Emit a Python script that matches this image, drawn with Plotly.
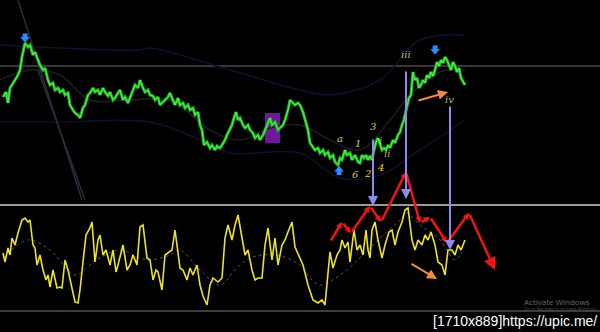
import plotly.graph_objects as go

# ---------------- data (chart units: x = bar position, y = level, axis reversed) -------------
price_x = [3, 6, 8, 10, 12, 15, 18, 20, 22, 25, 28, 30, 33, 35, 38, 40, 43, 45, 48, 50, 53, 55, 58, 60,
           63, 65, 68, 70, 73, 75, 78, 80, 83, 85, 88, 90, 93, 95, 98, 100, 103, 105, 108, 110, 113,
           115, 118, 120, 123, 125, 128, 130, 133, 135, 138, 140, 143, 145, 148, 150, 153, 155, 158,
           160, 163, 165, 168, 170, 173, 175, 178, 180, 183, 185, 188, 190, 193, 195, 198, 200, 202,
           204, 207, 210, 212, 215, 217, 220, 222, 225, 227, 230, 232, 234, 236, 238, 240, 243, 245,
           248, 250, 253, 255, 258, 260, 263, 265, 268, 270, 272, 275, 278, 280, 283, 285, 288, 290,
           293, 295, 298, 300, 303, 305, 308, 310, 313, 315, 318, 320, 323, 325, 328, 330, 333, 335,
           338, 340, 342, 345, 347, 350, 352, 355, 358, 360, 362, 364, 366, 368, 370, 372, 374, 376,
           378, 380, 382, 384, 386, 388, 390, 393, 395, 398, 400, 402, 404, 405, 407, 409, 411, 413,
           415, 417, 419, 421, 423, 425, 427, 429, 431, 433, 435, 437, 439, 441, 443, 445, 447, 449,
           451, 453, 455, 457, 459, 461, 463, 465]
price_y = [97, 92, 103, 88, 85, 80, 75, 70, 57, 43, 47, 45, 55, 52, 60, 65, 70, 68, 80, 85, 83, 90, 88,
           92, 90, 95, 93, 105, 110, 113, 115, 118, 108, 105, 95, 93, 88, 92, 90, 95, 88, 92, 96, 92,
           100, 98, 93, 90, 100, 97, 103, 98, 92, 85, 88, 80, 88, 92, 90, 95, 96, 100, 97, 105, 102,
           100, 97, 93, 100, 105, 98, 105, 103, 108, 105, 110, 108, 115, 112, 125, 130, 145, 142, 148,
           145, 150, 146, 148, 145, 140, 135, 128, 125, 118, 112, 120, 118, 125, 128, 125, 130, 133,
           138, 135, 140, 135, 130, 123, 118, 125, 122, 130, 128, 125, 120, 110, 100, 103, 105, 103,
           105, 112, 120, 130, 143, 147, 150, 148, 153, 150, 155, 152, 158, 155, 162, 165, 158, 160,
           150, 155, 153, 160, 155, 162, 163, 155, 158, 155, 160, 156, 160, 150, 142, 138, 145, 150,
           148, 150, 145, 148, 140, 143, 135, 132, 125, 120, 115, 105, 98, 95, 72, 80, 78, 88, 85, 80,
           83, 75, 78, 72, 76, 70, 62, 66, 60, 63, 57, 60, 65, 70, 62, 66, 72, 68, 78, 82, 85, 80, 78,
           83, 82, 75, 72, 65]

osc_x = [3, 5, 8, 10, 12, 15, 18, 20, 22, 25, 28, 30, 33, 35, 37, 40, 43, 46, 48, 50, 53, 57, 60, 62,
         65, 68, 72, 75, 78, 80, 83, 86, 90, 92, 95, 98, 100, 103, 106, 110, 113, 116, 118, 120, 123,
         127, 130, 133, 137, 140, 143, 147, 150, 153, 156, 158, 162, 165, 168, 172, 175, 180, 183,
         187, 190, 193, 197, 200, 203, 207, 210, 213, 218, 222, 225, 228, 232, 235, 238, 242, 245,
         248, 252, 255, 258, 262, 265, 268, 272, 275, 278, 282, 285, 288, 292, 295, 300, 303, 308,
         313, 318, 322, 325, 328, 330, 333, 337, 340, 342, 345, 348, 350, 354, 357, 360, 363, 366,
         368, 370, 372, 375, 378, 382, 385, 389, 392, 395, 398, 402, 405, 408, 412, 415, 418, 422,
         425, 428, 431, 435, 438, 442, 445, 448, 452, 455, 458, 461, 465]
osc_y = [253, 262, 248, 255, 238, 245, 233, 225, 220, 218, 222, 220, 245, 248, 265, 255, 270, 280, 275,
         287, 270, 288, 287, 288, 260, 270, 290, 302, 303, 290, 262, 235, 228, 222, 262, 240, 235,
         255, 250, 265, 250, 272, 265, 258, 245, 270, 265, 255, 265, 227, 225, 258, 260, 280, 270,
         272, 290, 255, 253, 250, 230, 268, 270, 280, 268, 275, 265, 285, 296, 305, 285, 278, 282,
         278, 238, 225, 240, 225, 215, 240, 255, 250, 270, 280, 278, 278, 245, 228, 260, 238, 265,
         245, 240, 232, 222, 247, 258, 265, 285, 300, 303, 300, 305, 270, 252, 268, 255, 250, 240,
         248, 242, 262, 230, 250, 245, 255, 230, 250, 258, 230, 222, 240, 258, 245, 232, 230, 245,
         232, 222, 210, 208, 240, 250, 240, 245, 235, 240, 232, 245, 262, 265, 275, 250, 250, 255,
         245, 250, 240, 235]

signal_x = [3, 28, 50, 75, 90, 100, 120, 140, 150, 170, 180, 200, 220, 235, 250, 275, 300, 310, 320,
            340, 360, 380, 400, 406, 420, 440, 455, 462]
signal_y = [258, 240, 250, 275, 265, 258, 250, 258, 260, 255, 250, 270, 285, 270, 258, 255, 265, 278,
            285, 275, 258, 238, 220, 213, 225, 240, 260, 252]

zigzag_x = [330, 342, 351, 370, 381, 406, 420, 430, 447, 469, 495]
zigzag_y = [242, 222, 233, 206, 222, 172, 223, 217, 243, 213, 270]

# faint envelope lines in the upper pane
band1_x = [0, 60, 140, 150, 230, 300, 330, 380, 420, 465]
band1_y = [45, 48, 50, 48, 70, 90, 95, 80, 40, 35]
band2_x = [0, 60, 150, 200, 230, 300, 340, 380, 420, 465]
band2_y = [122, 122, 122, 140, 153, 153, 178, 175, 150, 120]
ma_x = [0, 30, 60, 90, 130, 170, 210, 240, 270, 300, 330, 360, 390, 410, 440, 465]
ma_y = [80, 70, 75, 100, 100, 100, 130, 140, 128, 125, 140, 150, 120, 95, 72, 70]
diag1_x = [18, 82]
diag1_y = [0, 200]
diag2_x = [38, 85]
diag2_y = [70, 200]

# annotations
wave_labels = ["a", "1", "3", "i", "ii", "6", "2", "4", "iii", "iv"]
wave_x = [340, 358, 373, 380, 387, 355, 367, 380, 406, 449]
wave_y = [138, 143, 126, 140, 153, 174, 173, 167, 54, 99]
wave_colors = ["#d8c850", "#e0c840", "#e0c840", "#c8c060", "#a8a860", "#c8c060", "#e0c840",
               "#e0c840", "#b8b870", "#b8b870"]

blue_arrow_x = [373, 406, 450]
blue_arrow_top = [138, 70, 105]
blue_arrow_bottom = [206, 199, 250]

orange_from = [(417, 101), (410, 263)]
orange_to = [(448, 92), (437, 279)]

signal_arrows = [(25, 38, "down"), (339, 170, "up"), (435, 50, "down")]

h_lines = [(66, "#6f6f6f", 1), (205, "#9a9a9a", 2), (311, "#7a7a7a", 1)]

fig = go.Figure()

for bx, by, col in [(band1_x, band1_y, "#10102c"), (band2_x, band2_y, "#10102c"),
                    (ma_x, ma_y, "#1e1e1e"), (diag1_x, diag1_y, "#2c2c3c"), (diag2_x, diag2_y, "#2c2c3c")]:
    fig.add_trace(go.Scatter(x=bx, y=by, mode="lines", line=dict(color=col, width=1.5, shape="spline"),
                             hoverinfo="skip", showlegend=False))

# price
fig.add_trace(go.Scatter(x=price_x, y=price_y, mode="lines", line=dict(color="#1fb81f", width=3),
                         showlegend=False))
fig.add_trace(go.Scatter(x=price_x, y=price_y, mode="lines", line=dict(color="#5cf05c", width=1),
                         showlegend=False))

# oscillator
fig.add_trace(go.Scatter(x=signal_x, y=signal_y, mode="lines",
                         line=dict(color="#555555", width=1, dash="dot", shape="spline"),
                         showlegend=False))
fig.add_trace(go.Scatter(x=osc_x, y=osc_y, mode="lines", line=dict(color="#ece326", width=1.6),
                         showlegend=False))

shapes = []
for yv, col, w in h_lines:
    shapes.append(dict(type="line", xref="x", yref="y", x0=0, x1=600, y0=yv, y1=yv,
                       line=dict(color=col, width=w), layer="below"))
shapes.append(dict(type="rect", xref="x", yref="y", x0=265, x1=280, y0=113, y1=143,
                   fillcolor="#6a1a9a", line=dict(width=0), layer="below"))

annotations = []
# red zigzag
for i in range(len(zigzag_x) - 1):
    last = i == len(zigzag_x) - 2
    annotations.append(dict(x=zigzag_x[i + 1], y=zigzag_y[i + 1], ax=zigzag_x[i], ay=zigzag_y[i],
                            xref="x", yref="y", axref="x", ayref="y", text="", showarrow=True,
                            arrowhead=2, arrowsize=1.0 if last else 0.5, arrowwidth=2.5,
                            arrowcolor="#f01414", standoff=0, startstandoff=0))
# blue verticals
for bx, t, b in zip(blue_arrow_x, blue_arrow_top, blue_arrow_bottom):
    annotations.append(dict(x=bx, y=b, ax=bx, ay=t, xref="x", yref="y", axref="x", ayref="y",
                            text="", showarrow=True, arrowhead=2, arrowsize=1.0, arrowwidth=2,
                            arrowcolor="#8c8cf0"))
# orange arrows
for (fx, fy), (tx, ty) in zip(orange_from, orange_to):
    annotations.append(dict(x=tx, y=ty, ax=fx, ay=fy, xref="x", yref="y", axref="x", ayref="y",
                            text="", showarrow=True, arrowhead=2, arrowsize=1.0, arrowwidth=2,
                            arrowcolor="#f08a4a"))
# signal arrows
for sx, sy, d in signal_arrows:
    annotations.append(dict(x=sx, y=sy, xref="x", yref="y", showarrow=False,
                            text="🡇" if d == "down" else "🡅",
                            font=dict(color="#2a8cff", size=10)))
# wave labels
for t, wx, wy, c in zip(wave_labels, wave_x, wave_y, wave_colors):
    annotations.append(dict(x=wx, y=wy, xref="x", yref="y", text="<i>" + t + "</i>", showarrow=False,
                            font=dict(family="DejaVu Serif", size=10, color=c)))
# watermark texts
annotations.append(dict(x=522, y=301, xref="x", yref="y", xanchor="left", text="Activate Windows",
                        showarrow=False, font=dict(family="Open Sans", size=8, color="#6a6a6a")))
annotations.append(dict(x=599, y=308.5, xref="x", yref="y", xanchor="right",
                        text="Go to Settings to activate Windows", showarrow=False,
                        font=dict(family="Open Sans", size=4.5, color="#4a4a4a")))
annotations.append(dict(x=598, y=321, xref="x", yref="y", xanchor="right",
                        text="[1710x889]https://upic.me/", showarrow=False, bgcolor="#000000",
                        borderpad=0,
                        font=dict(family="Liberation Sans", size=14, color="#ffffff")))

fig.update_layout(width=600, height=332, margin=dict(l=0, r=0, t=0, b=0),
                  paper_bgcolor="#000000", plot_bgcolor="#000000",
                  xaxis=dict(range=[0, 600], visible=False, fixedrange=True),
                  yaxis=dict(range=[332, 0], visible=False, fixedrange=True),
                  shapes=shapes, annotations=annotations, showlegend=False)
fig.write_html("out.html", config=dict(displayModeBar=False))
